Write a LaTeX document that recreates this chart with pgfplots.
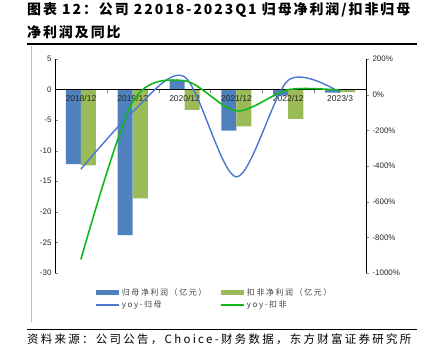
\documentclass[border=0pt]{standalone}
\usepackage{fontspec}
\setmainfont{Liberation Sans}
\newfontfamily\cjk{Noto Sans CJK SC}
\newfontfamily\cjktitle[LetterSpace=14]{Noto Sans CJK SC}
\newfontfamily\cjksp[LetterSpace=20]{Noto Sans CJK SC}
\usepackage{pgfplots}
\pgfplotsset{compat=1.18}
\definecolor{barblue}{HTML}{4F81BD}
\definecolor{bargreen}{HTML}{9BBB59}
\definecolor{linblue}{HTML}{4A78D0}
\definecolor{lingreen}{HTML}{10B81A}
\begin{document}
\begin{tikzpicture}[x=1bp,y=1bp]
\useasboundingbox (0,0) rectangle (425,-352);
\node[anchor=north west, inner sep=0, align=left, font=\cjktitle\bfseries\fontsize{14}{23}\selectfont] at (27,-2) {图表 12：公司 22018-2023Q1 归母净利润/扣非归母\\净利润及同比};
\draw[line width=1.1bp] (27,-44) -- (417,-44);
\draw[black!25, line width=0.8bp] (31,-46) -- (31,-322);
\begin{axis}[
  at={(55bp,-273bp)}, anchor=south west,
  width=311bp, height=214bp, scale only axis,
  axis on top,
  xmin=-0.5, xmax=5.5, ymin=-30, ymax=5,
  axis x line*=middle, axis y line*=left,
  ytick={-30,-25,...,5},
  xtick={0,...,5},
  xticklabels={2018/12,2019/12,2020/12,2021/12,2022/12,2023/3},
  minor xtick={0.5,1.5,2.5,3.5,4.5},
  major x tick style={draw=none},
  xtick align=inside, ytick align=inside,
  major tick length=3bp, minor tick length=3bp,
  x tick label style={font=\fontsize{8.5}{10}\selectfont, text=black!85, yshift=1bp},
  y tick label style={font=\fontsize{8}{10}\selectfont, text=black!85},
  /pgf/number format/assume math mode=true,
  axis line style={line width=0.8bp},
  ybar=0pt, bar width=0.29,
  legend columns=2,
  legend style={at={(0.12,0)}, anchor=north west, yshift=-11bp, draw=none, fill=none,
    font=\cjksp\fontsize{8}{9}\selectfont, text=black!75,
    /tikz/every even column/.style={column sep=12bp},
    row sep=0.5bp},
  legend cell align=left,
]
\addplot[fill=barblue, draw=none, bar shift=-0.145,
  legend image code/.code={\fill[barblue] (0bp,-2.2bp) rectangle (23bp,2.2bp);}]
  coordinates {(0,-12.2) (1,-23.8) (2,1.6) (3,-6.7) (4,-1.0) (5,-0.5)};
\addlegendentry{归母净利润（亿元）}
\addplot[fill=bargreen, draw=none, bar shift=0.145,
  legend image code/.code={\fill[bargreen] (0bp,-2.2bp) rectangle (23bp,2.2bp);}]
  coordinates {(0,-12.4) (1,-17.8) (2,-3.3) (3,-6.0) (4,-4.8) (5,-0.4)};
\addlegendentry{扣非净利润（亿元）}
\addlegendimage{legend image code/.code={\draw[linblue, line width=1.4bp] (0bp,0bp) -- (23bp,0bp);}}
\addlegendentry{yoy-归母}
\addlegendimage{legend image code/.code={\draw[lingreen, line width=1.6bp] (0bp,0bp) -- (23bp,0bp);}}
\addlegendentry{yoy-扣非}
\end{axis}
\begin{axis}[
  at={(55bp,-273bp)}, anchor=south west,
  width=311bp, height=214bp, scale only axis,
  xmin=-0.5, xmax=5.5, ymin=-1000, ymax=200,
  axis x line=none, axis y line*=right,
  ytick={-1000,-800,...,200},
  yticklabel={\pgfmathprintnumber{\tick}\%},
  /pgf/number format/1000 sep={},
  ytick align=outside, major tick length=3bp,
  y tick label style={font=\fontsize{8}{10}\selectfont, text=black!85},
  /pgf/number format/assume math mode=true,
  axis line style={line width=0.8bp},
]
\addplot[smooth, linblue, line width=1.4bp] coordinates {(0,-418) (1,-96) (2,100) (3,-461) (4,81) (5,12)};
\addplot[smooth, lingreen, line width=1.6bp] coordinates {(0,-924) (1,-40) (2,78) (3,-91) (4,28) (5,25)};
\end{axis}
\draw[line width=1bp] (27,-329) -- (417,-329);
\node[anchor=west, inner sep=0, font=\cjksp\fontsize{11.5}{12}\selectfont] at (27,-339) {资料来源：公司公告，Choice-财务数据，东方财富证券研究所};
\end{tikzpicture}
\end{document}
